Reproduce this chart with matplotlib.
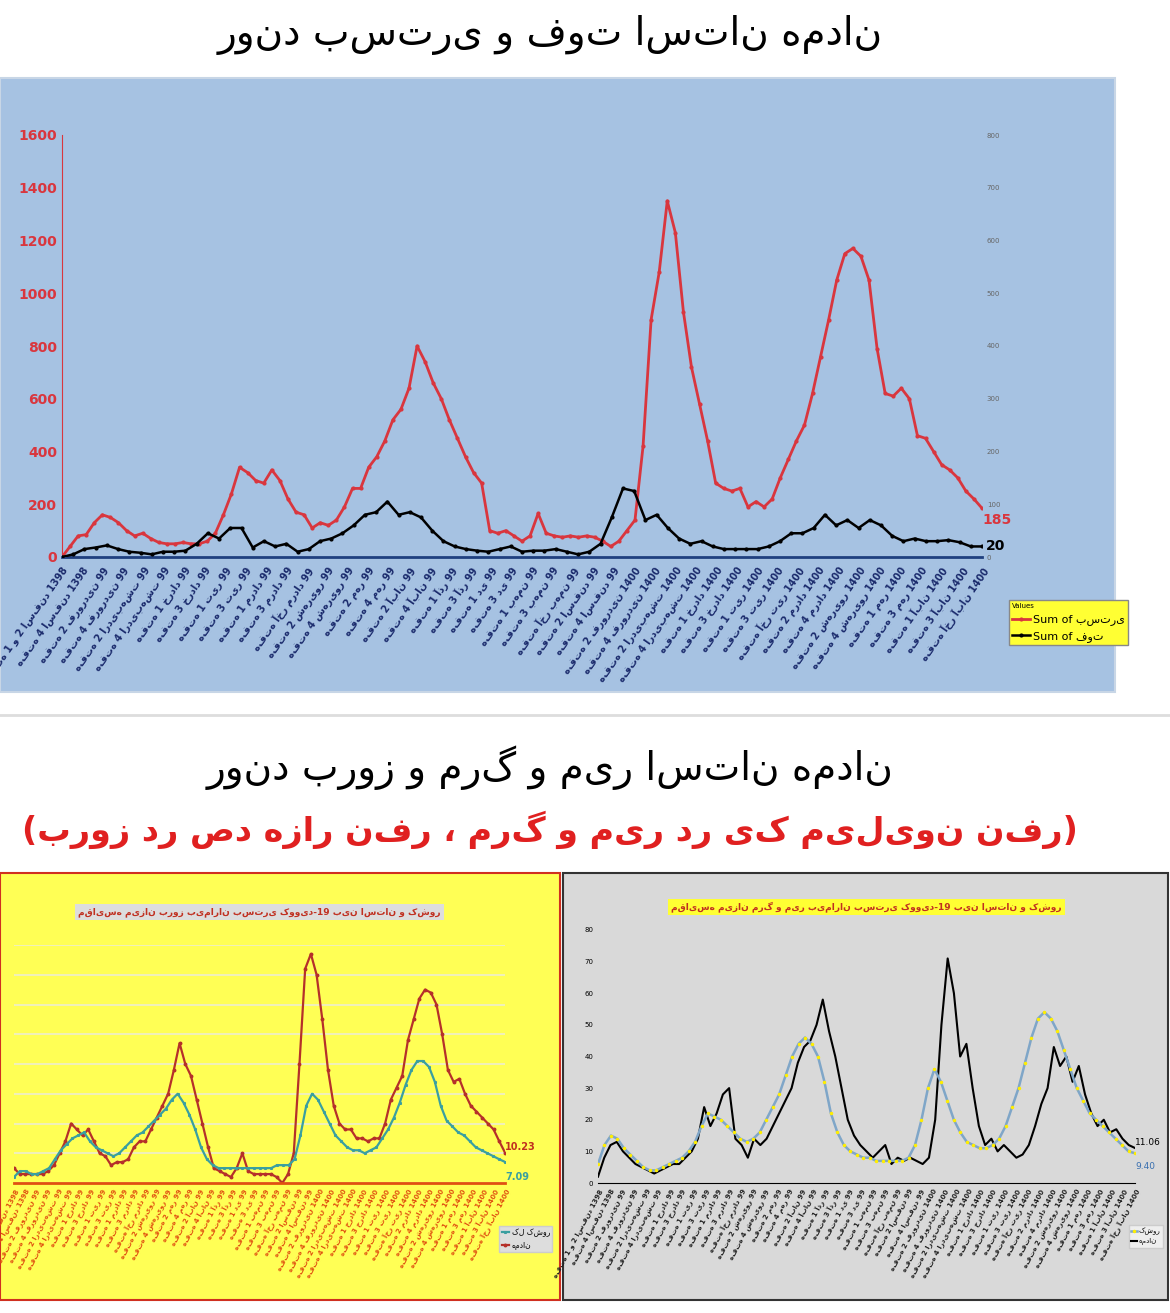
import numpy as np
import matplotlib.pyplot as plt
from matplotlib.patches import Rectangle

plt.rcParams['font.family'] = ['DejaVu Sans']

# ---- top chart: hospitalised (left axis) and deaths (right axis) ----
hosp = [0, 40, 80, 85, 130, 160, 150, 130, 100, 80, 90, 70, 55, 50, 50, 55, 50, 50, 60, 90,
        160, 240, 340, 320, 290, 280, 330, 290, 220, 170, 160, 110, 130, 120, 140, 190, 260, 260,
        340, 380, 440, 520, 560, 640, 800, 740, 660, 600, 520, 450, 380, 320, 280, 100, 90, 100,
        80, 60, 80, 165, 90, 80, 75, 80, 75, 80, 75, 60, 40, 60, 100, 140, 420, 900, 1080, 1350,
        1230, 930, 720, 580, 440, 280, 260, 250, 260, 190, 210, 190, 220, 300, 370, 440, 500,
        620, 760, 900, 1050, 1150, 1170, 1140, 1050, 790, 620, 610, 640, 600, 460, 450, 400,
        350, 330, 300, 250, 220, 185]
deaths = [0, 5, 15, 18, 22, 15, 10, 8, 5, 10, 10, 12, 25, 45, 35, 55, 55, 18, 30, 20, 25, 10,
          15, 30, 35, 45, 60, 80, 85, 105, 80, 85, 75, 50, 30, 20, 15, 12, 10, 15, 20, 10, 12,
          12, 15, 10, 5, 10, 25, 75, 130, 125, 70, 80, 55, 35, 25, 30, 20, 15, 15, 15, 15, 20,
          30, 45, 45, 55, 80, 60, 70, 55, 70, 60, 40, 30, 35, 30, 30, 32, 28, 20, 20]
top_labels = ["هفته 1 و 2 اسفند 1398", "هفته 4 اسفند 1398", "هفته 2 فروردین 99", "هفته 4 فروردین 99",
              "هفته 2 اردیبهشت 99", "هفته 4 اردیبهشت 99", "هفته 1 خرداد 99", "هفته 3 خرداد 99",
              "هفته 1 تیر 99", "هفته 3 تیر 99", "هفته 1 مرداد 99", "هفته 3 مرداد 99",
              "هفته آخر مرداد 99", "هفته 2 شهریور 99", "هفته 4 شهریور 99", "هفته 2 مهر 99",
              "هفته 4 مهر 99", "هفته 2 آبان 99", "هفته 4 آبان 99", "هفته 1 آذر 99", "هفته 3 آذر 99",
              "هفته 1 دی 99", "هفته 3 دی 99", "هفته 1 بهمن 99", "هفته 3 بهمن 99", "هفته آخر بهمن 99",
              "هفته 2 اسفند 99", "هفته 4 اسفند 99", "هفته 2 فروردین 1400", "هفته 4 فروردین 1400",
              "هفته 2 اردیبهشت 1400", "هفته 4 اردیبهشت 1400", "هفته 1 خرداد 1400",
              "هفته 3 خرداد 1400", "هفته 1 تیر 1400", "هفته 3 تیر 1400", "هفته آخر تیر 1400",
              "هفته 2 مرداد 1400", "هفته 4 مرداد 1400", "هفته 2 شهریور 1400", "هفته 4 شهریور 1400",
              "هفته 1 مهر 1400", "هفته 3 مهر 1400", "هفته 1 آبان 1400", "هفته 3 آبان 1400",
              "هفته آخر آبان 1400"]

# ---- bottom left: incidence of hospitalisation, Hamedan vs country ----
ham_inc = [5, 3, 3, 3, 3, 3, 4, 6, 10, 14, 20, 18, 16, 18, 14, 10, 9, 6, 7, 7, 8, 12, 14, 14, 18,
           22, 26, 30, 38, 47, 40, 36, 28, 20, 12, 5, 4, 3, 2, 5, 10, 4, 3, 3, 3, 3, 2, 0, 3, 10,
           40, 72, 77, 70, 55, 38, 26, 20, 18, 18, 15, 15, 14, 15, 15, 20, 28, 32, 36, 48, 55, 62,
           65, 64, 60, 50, 38, 34, 35, 30, 26, 24, 22, 20, 18, 14, 10.23]
cty_inc = [2, 4, 4, 3, 3, 4, 5, 8, 11, 13, 15, 16, 17, 14, 12, 11, 10, 9, 10, 12, 14, 16, 17, 19,
           21, 23, 25, 28, 30, 27, 23, 18, 12, 8, 6, 5, 5, 5, 5, 5, 5, 5, 5, 5, 5, 6, 6, 6, 8, 16,
           26, 30, 28, 24, 20, 16, 14, 12, 11, 11, 10, 11, 12, 15, 18, 22, 27, 33, 38, 41, 41, 39,
           34, 26, 21, 19, 17, 16, 14, 12, 11, 10, 9, 8, 7.09]

# ---- bottom right: mortality per million ----
ham_mort = [2, 8, 12, 13, 10, 8, 6, 5, 4, 3, 4, 5, 6, 6, 8, 10, 14, 24, 18, 22, 28, 30, 14, 12, 8,
            14, 12, 14, 18, 22, 26, 30, 38, 43, 45, 50, 58, 48, 40, 30, 20, 15, 12, 10, 8, 10, 12,
            6, 8, 7, 8, 7, 6, 8, 20, 50, 71, 60, 40, 44, 30, 18, 12, 14, 10, 12, 10, 8, 9, 12, 18,
            25, 30, 43, 37, 40, 32, 37, 28, 22, 18, 20, 16, 17, 14, 12, 11.06]
cty_mort = [6, 12, 15, 14, 11, 9, 7, 5, 4, 4, 5, 6, 7, 8, 10, 13, 18, 22, 21, 20, 18, 16, 14, 13,
            14, 16, 20, 24, 28, 34, 40, 44, 46, 44, 40, 32, 22, 16, 12, 10, 9, 8, 8, 7, 7, 7, 7, 7,
            8, 12, 20, 30, 36, 32, 26, 20, 16, 13, 12, 11, 11, 12, 14, 18, 24, 30, 38, 46, 52, 54,
            52, 48, 42, 36, 30, 26, 22, 20, 18, 16, 14, 12, 10, 9.40]

W, H = 1170, 1313
fig = plt.figure(figsize=(W / 100, H / 100), dpi=100)
fig.patch.set_facecolor('white')

def rect(x0, y0, x1, y1):
    return [x0 / W, 1 - y1 / H, (x1 - x0) / W, (y1 - y0) / H]

def xs(vals, n):
    return np.linspace(0, n - 1, len(vals))

# panels behind the axes
fig.patches.append(Rectangle((0, 1 - 692 / H), 1115 / W, 614 / H, transform=fig.transFigure,
                             facecolor='#a6c2e2', edgecolor='#c8d6e6', lw=1.5, zorder=-5))
fig.patches.append(Rectangle((0, 1 - 1300 / H), 560 / W, 427 / H, transform=fig.transFigure,
                             facecolor='#ffff55', edgecolor='#d03020', lw=1.5, zorder=-5))
fig.patches.append(Rectangle((563 / W, 1 - 1300 / H), 605 / W, 427 / H, transform=fig.transFigure,
                             facecolor='#d9d9d9', edgecolor='#333333', lw=1.5, zorder=-5))
fig.add_artist(plt.Line2D([0, 1], [1 - 715 / H] * 2, color='#dddddd', lw=2, zorder=-5))

fig.text(0.47, 1 - 35 / H, "روند بستری و فوت استان همدان", ha='center', va='center', fontsize=28)
fig.text(0.47, 1 - 768 / H, "روند بروز و مرگ و میر استان همدان", ha='center', va='center', fontsize=28)
fig.text(0.47, 1 - 830 / H, "(بروز در صد هزار نفر ، مرگ و میر در یک میلیون نفر)",
         ha='center', va='center', fontsize=24, color='#e02020', fontweight='bold')

# ---- top chart ----
n = len(hosp)
ax = fig.add_axes(rect(62, 135, 982, 557))
ax.set_facecolor('none')
ax.plot(range(n), hosp, color='#d9363e', lw=2, marker='o', ms=2)
ax.set_xlim(0, n - 1)
ax.set_ylim(0, 1600)
ax.set_yticks(range(0, 1601, 200))
ax.tick_params(axis='y', colors='#d9363e', labelsize=10, length=0)
for t in ax.get_yticklabels():
    t.set_fontweight('bold')
ax.set_xticks(np.linspace(0, n - 1, len(top_labels)))
ax.set_xticklabels(top_labels, rotation=55, ha='right', rotation_mode='anchor',
                   fontsize=7, color='#1a2a6c', fontweight='bold')
ax.tick_params(axis='x', length=0, pad=6)
for s in ['top', 'right']:
    ax.spines[s].set_visible(False)
ax.spines['left'].set_color('#d9363e')
ax.spines['bottom'].set_color('#1f3f7f')
ax.spines['bottom'].set_linewidth(2)
ax.text(n - 1, hosp[-1] - 60, "185", color='#d9363e', fontsize=10, fontweight='bold', ha='left')
ax2 = ax.twinx()
ax2.plot(xs(deaths, n), deaths, color='black', lw=1.8, marker='o', ms=2)
ax2.set_ylim(0, 800)
ax2.set_yticks(range(0, 801, 100))
ax2.tick_params(axis='y', labelsize=5, colors='#666666', length=0)
for s in ['top', 'right', 'left', 'bottom']:
    ax2.spines[s].set_visible(False)
ax2.text(n - 1 + 0.5, deaths[-1], "20", fontsize=10, fontweight='bold', va='center')
ax2.legend([ax.lines[0], ax2.lines[0]], ["Sum of بستری", "Sum of فوت"],
           loc='upper left', bbox_to_anchor=(1003 / W, 1 - 594 / H), bbox_transform=fig.transFigure,
           facecolor='#ffff33', edgecolor='#888888', fancybox=False, fontsize=8, framealpha=1,
           title='Values', title_fontsize=5, alignment='left', handlelength=1.6,
           borderpad=0.3, handletextpad=0.3)

# ---- bottom left ----
m = len(ham_inc)
bl = fig.add_axes(rect(14, 945, 505, 1183))
bl.set_facecolor('none')
bl.plot(range(m), ham_inc, color='#b5302a', lw=1.6, marker='o', ms=1.8)
bl.plot(xs(cty_inc, m), cty_inc, color='#3a9fa0', lw=1.6, marker='s', ms=1.2)
bl.set_xlim(0, m - 1)
bl.set_ylim(0, 80)
bl.set_yticks(range(0, 81, 10))
bl.grid(axis='y', color='#eeeecc', lw=1.2)
bl.tick_params(axis='y', labelleft=False, length=0)
bl.set_xticks(np.linspace(0, m - 1, len(top_labels)))
bl.set_xticklabels(top_labels, rotation=62, ha='right', rotation_mode='anchor',
                   fontsize=5, color='#e05010', fontweight='bold')
bl.tick_params(axis='x', length=0)
for s in ['top', 'right', 'left']:
    bl.spines[s].set_visible(False)
bl.spines['bottom'].set_color('#e05010')
bl.spines['bottom'].set_linewidth(2)
bl.text(m - 1, ham_inc[-1] + 1, "10.23", color='#c03020', fontsize=7, fontweight='bold')
bl.text(m - 1, cty_inc[-1] - 6, "7.09", color='#3a9fa0', fontsize=7, fontweight='bold')
bl.text(0.5, 1.13, "مقایسه میزان بروز بیماران بستری کووید-19 بین استان و کشور", transform=bl.transAxes,
        ha='center', fontsize=6.5, color='#c03020', fontweight='bold',
        bbox=dict(facecolor='#dddddd', edgecolor='none', pad=2))
bl.legend([bl.lines[1], bl.lines[0]], ["کل کشور", "همدان"], loc='upper right',
          bbox_to_anchor=(556 / W, 1 - 1222 / H), bbox_transform=fig.transFigure,
          fontsize=5.5, facecolor='#dddddd', fancybox=False, framealpha=1, handlelength=1,
          borderpad=0.3, handletextpad=0.3)

# ---- bottom right ----
k = len(ham_mort)
br = fig.add_axes(rect(598, 930, 1135, 1183))
br.set_facecolor('none')
br.plot(range(k), ham_mort, color='black', lw=1.5)
br.plot(xs(cty_mort, k), cty_mort, color='#7fa6c8', lw=1.8, marker='o', ms=1.5,
        markerfacecolor='#ffee00', markeredgecolor='#ffee00')
br.set_xlim(0, k - 1)
br.set_ylim(0, 80)
br.set_yticks(range(0, 81, 10))
br.tick_params(axis='y', labelsize=5, length=0)
br.set_xticks(np.linspace(0, k - 1, len(top_labels)))
br.set_xticklabels(top_labels, rotation=62, ha='right', rotation_mode='anchor',
                   fontsize=5, color='#222222', fontweight='bold')
br.tick_params(axis='x', length=0)
for s in ['top', 'right', 'left']:
    br.spines[s].set_visible(False)
br.text(k - 1, ham_mort[-1] + 1, "11.06", fontsize=6.5)
br.text(k - 1, cty_mort[-1] - 5, "9.40", fontsize=6.5, color='#3a70b0')
br.text(0.5, 1.08, "مقایسه میزان مرگ و میر بیماران بستری کووید-19 بین استان و کشور", transform=br.transAxes,
        ha='center', fontsize=6.5, color='#c03020', fontweight='bold',
        bbox=dict(facecolor='#ffff33', edgecolor='none', pad=2))
br.legend([br.lines[1], br.lines[0]], ["کشور", "همدان"], loc='upper right',
          bbox_to_anchor=(1166 / W, 1 - 1222 / H), bbox_transform=fig.transFigure,
          fontsize=5, facecolor='#eeeeee', fancybox=False, framealpha=1, handlelength=0.8,
          borderpad=0.3, handletextpad=0.3)

fig.savefig('out.png', dpi=100)
